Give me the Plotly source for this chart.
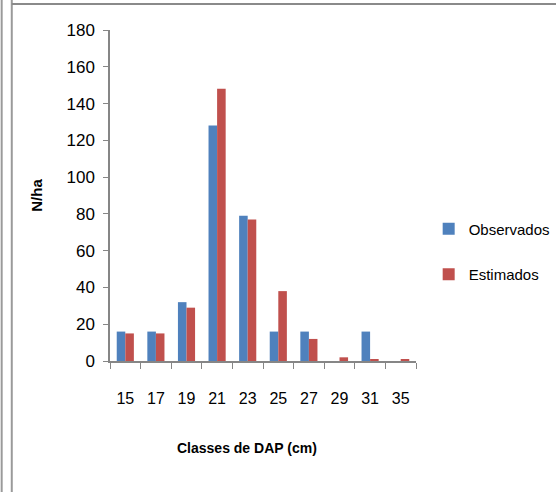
import plotly.graph_objects as go

classes = ["15", "17", "19", "21", "23", "25", "27", "29", "31", "35"]
observados = [16, 16, 32, 128, 79, 16, 16, 0, 16, 0]
estimados = [15, 15, 29, 148, 77, 38, 12, 2, 1, 1]
y_ticks = [0, 20, 40, 60, 80, 100, 120, 140, 160, 180]

FONT = "Liberation Sans Narrow, Arial Narrow, Liberation Sans, sans-serif"

fig = go.Figure()
fig.add_trace(go.Bar(x=classes, y=observados, name="Observados",
                     marker=dict(color="#4F81BD", line=dict(width=0)),
                     legendgroup="a"))
fig.add_trace(go.Bar(x=classes, y=estimados, name="Estimados",
                     marker=dict(color="#C0504D", line=dict(width=0)),
                     legendgroup="b"))

fig.update_layout(
    width=556, height=492,
    margin=dict(l=110, r=140, t=30, b=131, autoexpand=False),
    paper_bgcolor="white", plot_bgcolor="white",
    barmode="group", bargap=0.44, bargroupgap=0,
    font=dict(family=FONT, size=16, color="black"),
    showlegend=True,
    legend=dict(xref="container", yref="container", x=0.771, y=0.489,
                xanchor="left", yanchor="middle",
                font=dict(family=FONT, size=15), tracegroupgap=23,
                itemwidth=30, bgcolor="rgba(0,0,0,0)"),
)

# outer frame lines (document border)
fig.add_shape(type="line", xref="paper", yref="paper", x0=-0.354, x1=-0.354,
              y0=-0.5, y1=1.2, line=dict(color="#9a9a9a", width=2))
fig.add_shape(type="line", xref="paper", yref="paper", x0=-0.321, x1=-0.321,
              y0=-0.5, y1=1.2, line=dict(color="#9a9a9a", width=2))
fig.add_shape(type="line", xref="paper", yref="paper",
              x0=-0.321, x1=1.46, y0=1.0785, y1=1.0785,
              line=dict(color="#8a8a8a", width=2))

fig.add_annotation(text="<b>Classes de DAP (cm)</b>", xref="paper", yref="paper",
                   x=(247 - 110) / 306, y=(361 - 448) / 331,
                   xanchor="center", yanchor="middle", showarrow=False,
                   font=dict(family=FONT, size=14, color="black"))

fig.update_xaxes(
    type="category", showline=True, linecolor="#868686", linewidth=1.5,
    ticks="outside", tickson="boundaries", ticklen=6, tickcolor="#868686",
    showgrid=False, ticklabelstandoff=22,
    tickfont=dict(family=FONT, size=16),
)
fig.update_yaxes(
    range=[0, 180], tickvals=y_ticks, showline=True, linecolor="#868686",
    linewidth=1.5, ticks="outside", ticklen=5, tickcolor="#868686",
    showgrid=False, zeroline=False, ticklabelstandoff=5,
    tickfont=dict(family=FONT, size=17),
    title=dict(text="<b>N/ha</b>", standoff=20,
               font=dict(family="Liberation Sans, Arial, sans-serif", size=15)),
)

fig.write_html("out.html")
